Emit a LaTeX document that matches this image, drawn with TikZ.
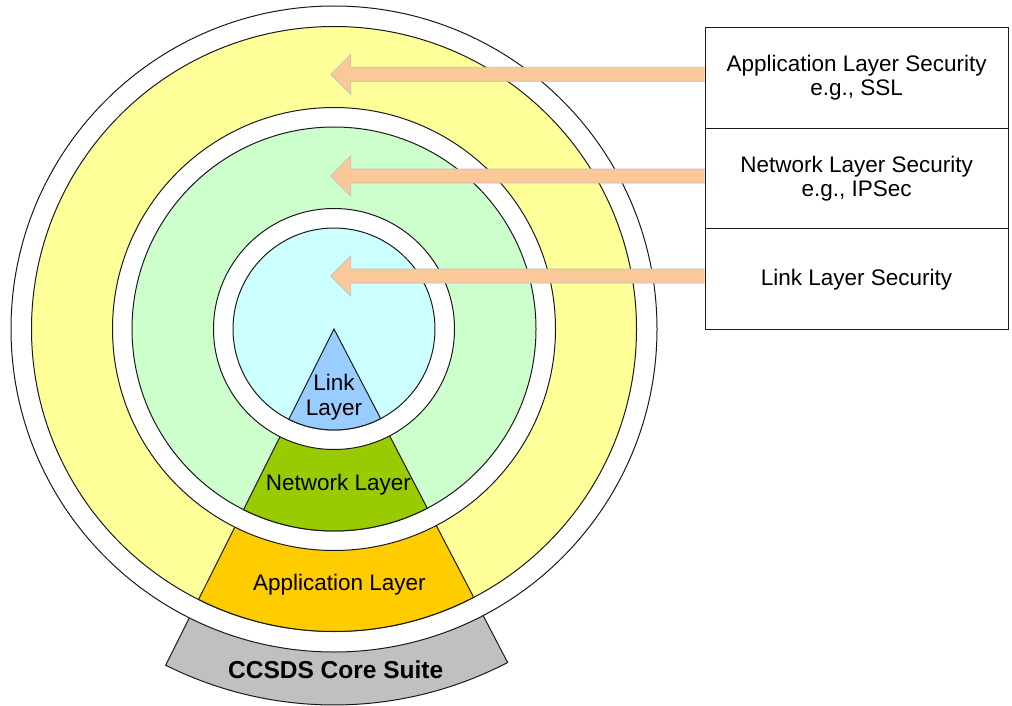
\documentclass[tikz,border=0pt]{standalone}
\usepackage{fontspec}
\setmainfont{Liberation Sans}
\usetikzlibrary{calc}
\definecolor{ringyellow}{HTML}{FFFF99}
\definecolor{ringgreen}{HTML}{CCFFCC}
\definecolor{ringcyan}{HTML}{CCFFFF}
\definecolor{linkblue}{HTML}{99CCFF}
\definecolor{netgreen}{HTML}{99CC00}
\definecolor{appgold}{HTML}{FFCC00}
\definecolor{coregray}{HTML}{C0C0C0}
\definecolor{peach}{HTML}{FBC899}
\definecolor{edgecol}{HTML}{1A1A1A}
\begin{document}
\begin{tikzpicture}[x=1pt,y=-1pt,line width=1pt,
  ring/.style={draw=edgecol, fill=#1},
  wedge/.style={draw=edgecol, fill=#1},
  lbl/.style={font=\fontsize{22.5}{24.3}\selectfont, inner sep=0pt, align=center, text=black},
  cellbox/.style={draw=edgecol, fill=white, minimum width=303pt, minimum height=101pt, inner sep=0pt, lbl},
  fatarrow/.style={draw=black!25, fill=peach, line width=0.7pt,
    to path={let \p1=(\tikztostart), \p2=(\tikztotarget) in
      (\x1,\y2+7pt) -- (\x2+20pt,\y2+7pt) -- (\x2+20pt,\y2+20pt) -- (\x2,\y2)
      -- (\x2+20pt,\y2-20pt) -- (\x2+20pt,\y2-7pt) -- (\x1,\y2-7pt)}}
]
\useasboundingbox (0,0) rectangle (1012,706);
\coordinate (C) at (334,329);
\def\wa{62.5}
\def\wb{116.6}
% core suite base
\draw[wedge=coregray] (C) -- ($(C)+(\wa:376)$) arc[start angle=\wa, end angle=\wb, radius=376] -- cycle;
% outer white ring
\draw[ring=white] (C) circle[radius=323];
% application ring
\draw[ring=ringyellow] (C) circle[radius=302.5];
\draw[wedge=appgold] (C) -- ($(C)+(\wa:302.5)$) arc[start angle=\wa, end angle=\wb, radius=302.5] -- cycle;
% network ring
\draw[ring=white] (C) circle[radius=221.5];
\draw[ring=ringgreen] (C) circle[radius=202];
\draw[wedge=netgreen] (C) -- ($(C)+(\wa:202)$) arc[start angle=\wa, end angle=\wb, radius=202] -- cycle;
% link ring
\draw[ring=white] (C) circle[radius=120.5];
\draw[ring=ringcyan] (C) circle[radius=101];
\draw[wedge=linkblue] (C) -- ($(C)+(\wa:101)$) arc[start angle=\wa, end angle=\wb, radius=101] -- cycle;
% labels
\node[lbl, anchor=base] (linklbl) at (334,415) {Link\\Layer};
\node[lbl, anchor=base] (netlbl) at (338.3,490) {Network Layer};
\node[lbl, anchor=base] (applbl) at (339.3,590.7) {Application Layer};
\node[lbl, anchor=base, font=\bfseries\fontsize{24.5}{26}\selectfont] (corelbl) at (335.7,678.3) {CCSDS Core Suite};
% security boxes
\node[cellbox] (cell1) at (856.6,77.8) {Application Layer Security\\e.g., SSL};
\node[cellbox] (cell2) at (856.6,178.6) {Network Layer Security\\e.g., IPSec};
\node[cellbox] (cell3) at (856.6,279.3) {Link Layer Security};
% arrows
\coordinate (tip1) at (330.7,74.3);
\coordinate (tip2) at (330.7,176);
\coordinate (tip3) at (330.7,276);
\draw[fatarrow] (cell1.west) to (tip1);
\draw[fatarrow] (cell2.west) to (tip2);
\draw[fatarrow] (cell3.west) to (tip3);
\end{tikzpicture}
\end{document}
